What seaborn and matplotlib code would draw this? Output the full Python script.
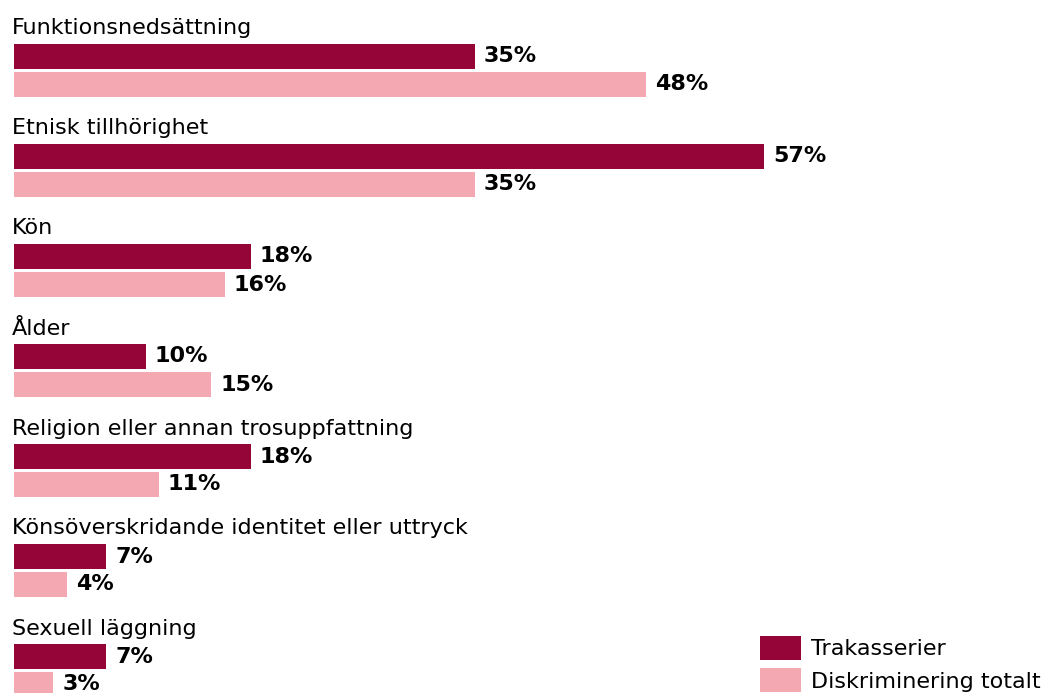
import pandas as pd
import matplotlib.pyplot as plt
import seaborn as sns

# values
categories = [
    "Funktionsnedsättning",
    "Etnisk tillhörighet",
    "Kön",
    "Ålder",
    "Religion eller annan trosuppfattning",
    "Könsöverskridande identitet eller uttryck",
    "Sexuell läggning",
]
trakasserier = [35, 57, 18, 10, 18, 7, 7]
diskriminering = [48, 35, 16, 15, 11, 4, 3]
series = ["Trakasserier", "Diskriminering totalt"]
colors = ["#950538", "#F4A8B2"]

df = pd.DataFrame({
    "Kategori": categories * 2,
    "Serie": [series[0]] * len(categories) + [series[1]] * len(categories),
    "Andel": trakasserier + diskriminering,
})

sns.set_theme(style="white")
plt.rcParams["font.family"] = ["DejaVu Sans"]
plt.rcParams["text.color"] = "black"

fig = plt.figure(figsize=(10.41, 6.93), dpi=100)
ax = fig.add_axes([0, 0, 1, 1])

sns.barplot(data=df, x="Andel", y="Kategori", hue="Serie", order=categories,
            hue_order=series, palette=colors, width=0.56, gap=0.1,
            saturation=1, orient="h", linewidth=0, ax=ax)

for cont in ax.containers:
    ax.bar_label(cont, fmt="%.0f%%", padding=6.5, fontsize=16,
                 fontweight="bold", color="black")

# category labels above each group
for i, cat in enumerate(categories):
    ax.text(-0.15, i - 0.42, cat, fontsize=16, va="center", ha="left",
            color="black")

ax.set_xlim(-14 / 13.16, (1041 - 14) / 13.16)
ax.set_ylim(6.225, -0.705)
ax.set_axis_off()

handles, labels = ax.get_legend_handles_labels()
ax.legend(handles, labels, loc="lower right", bbox_to_anchor=(1.0, 0.0),
          frameon=False, fontsize=16, handlelength=1.85, handleheight=1.28,
          handletextpad=0.45, labelspacing=0.38, borderaxespad=0.03,
          borderpad=0.0, labelcolor="black")

fig.savefig("out.png", dpi=100)
